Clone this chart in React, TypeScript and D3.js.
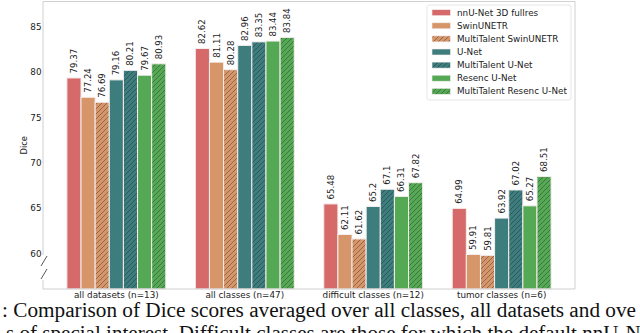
import React from "react";
import * as d3 from "d3";

const categories = ["all datasets (n=13)", "all classes (n=47)", "difficult classes (n=12)", "tumor classes (n=6)"];
const models = [
  "nnU-Net 3D fullres",
  "SwinUNETR",
  "MultiTalent SwinUNETR",
  "U-Net",
  "MultiTalent U-Net",
  "Resenc U-Net",
  "MultiTalent Resenc U-Net",
];
const nnunet = [79.37, 82.62, 65.48, 64.99];
const swin = [77.24, 81.11, 62.11, 59.91];
const mtSwin = [76.69, 80.28, 61.62, 59.81];
const unet = [79.16, 82.96, 65.2, 63.92];
const mtUnet = [80.21, 83.35, 67.1, 67.02];
const resenc = [79.67, 83.44, 66.31, 65.27];
const mtResenc = [80.93, 83.84, 67.82, 68.51];
const series = [nnunet, swin, mtSwin, unet, mtUnet, resenc, mtResenc];
const yTicks = [60, 65, 70, 75, 80, 85];

const colors = ["#d66a6a", "#d6966a", "#d6966a", "#3e7d7d", "#3e7d7d", "#55a955", "#55a955"];
const hatched = [false, false, true, false, true, false, true];

const W = 640, H = 333;
const left = 43, right = 575, top = 1.5, bottom = 289;
const font = "DejaVu Sans, sans-serif";

export default function App() {
  const x = d3.scaleLinear().domain([-0.571, 3.571]).range([left, right]);
  const y = d3.scaleLinear().domain([56.1, 87.8]).range([bottom, top]);
  const bw = 0.11;

  return (
    <svg width={W} height={H} style={{ position: "absolute", left: 0, top: 0, background: "#fff" }}>
      <defs>
        {colors.map((c, i) => (
          <pattern key={i} id={`hatch${i}`} patternUnits="userSpaceOnUse" width={5} height={5}>
            <rect width={5} height={5} fill={c} />
            <path d="M0,5 L5,0 M-1,1 L1,-1 M4,6 L6,4" stroke="rgba(30,30,30,0.55)" strokeWidth={0.7} />
          </pattern>
        ))}
      </defs>

      {/* bars */}
      {series.map((vals, si) =>
        vals.map((v, ci) => {
          const x0 = x(ci + (si - 3.5) * bw);
          const x1 = x(ci + (si - 2.5) * bw);
          const yt = y(v);
          const cx = (x0 + x1) / 2;
          return (
            <g key={`${si}-${ci}`}>
              <rect
                x={x0}
                y={yt}
                width={x1 - x0}
                height={bottom - yt}
                fill={hatched[si] ? `url(#hatch${si})` : colors[si]}
                stroke="#f5eeee"
                strokeWidth={1}
              />
              <text
                transform={`translate(${cx},${yt - 4.5}) rotate(-90)`}
                fontFamily={font}
                fontSize={8.6}
                fill="#222"
                dominantBaseline="central"
              >
                {String(v)}
              </text>
            </g>
          );
        })
      )}

      {/* frame */}
      <line x1={left} x2={right} y1={top} y2={top} stroke="#d0d0d0" />
      <line x1={right} x2={right} y1={top} y2={bottom} stroke="#d0d0d0" />
      <line x1={left} x2={right} y1={bottom} y2={bottom} stroke="#d0d0d0" />
      <line x1={left} x2={left} y1={top} y2={255} stroke="#d0d0d0" />
      <line x1={left} x2={left} y1={280} y2={bottom} stroke="#d0d0d0" />
      <line x1={41} y1={266} x2={47} y2={256} stroke="#444" strokeWidth={0.9} />
      <line x1={41} y1={279} x2={47} y2={269} stroke="#444" strokeWidth={0.9} />

      {/* y ticks */}
      {yTicks.map((t) => (
        <text key={t} x={41.5} y={y(t)} textAnchor="end" dominantBaseline="central" fontFamily={font} fontSize={8.8} fill="#222">
          {t}
        </text>
      ))}
      <text transform={`translate(27,${(top + bottom) / 2}) rotate(-90)`} textAnchor="middle" fontFamily={font} fontSize={8.4} fill="#222">
        Dice
      </text>

      {/* x labels */}
      {categories.map((c, i) => (
        <text key={c} x={x(i)} y={297.5} textAnchor="middle" fontFamily={font} fontSize={8.8} fill="#222">
          {c}
        </text>
      ))}

      {/* legend */}
      <rect x={427} y={5} width={144} height={95} rx={2} fill="#fff" stroke="#e6e6e6" />
      {models.map((m, i) => {
        const ly = 12.7 + i * 13.1;
        return (
          <g key={m}>
            <rect
              x={432}
              y={ly - 3}
              width={18.5}
              height={6}
              fill={hatched[i] ? `url(#hatch${i})` : colors[i]}
              stroke="#f5eeee"
              strokeWidth={0.6}
            />
            <text x={457} y={ly} dominantBaseline="central" fontFamily={font} fontSize={8.8} fill="#222">
              {m}
            </text>
          </g>
        );
      })}

      {/* caption */}
      <text x={2} y={317} fontFamily="Liberation Serif, serif" fontSize={20} fill="#111" textLength={634} lengthAdjust="spacingAndGlyphs">
        : Comparison of Dice scores averaged over all classes, all datasets and ove
      </text>
      <text x={6} y={340} fontFamily="Liberation Serif, serif" fontSize={20} fill="#111" textLength={650} lengthAdjust="spacingAndGlyphs">
        s of special interest. Difficult classes are those for which the default nnU-Net
      </text>
    </svg>
  );
}
